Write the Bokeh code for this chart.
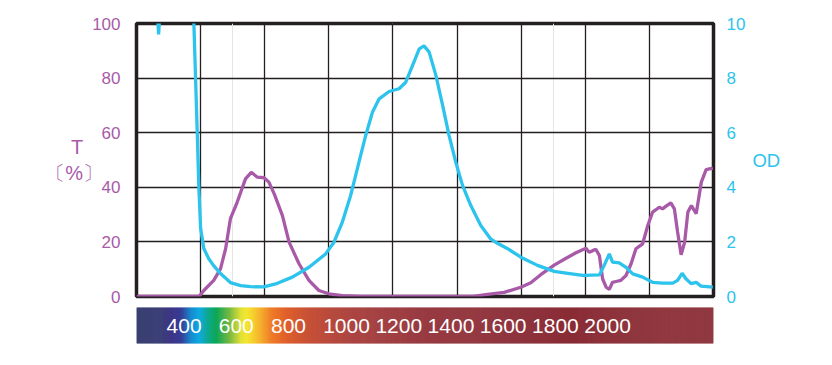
import numpy as np
from bokeh.plotting import figure
from bokeh.models import Range1d, LinearAxis, SingleIntervalTicker, Grid
from bokeh.layouts import column
from bokeh.core.properties import value
from bokeh.embed import file_html
from bokeh.resources import INLINE

# ---------------- data ----------------
t_nm = [200, 395, 410, 441, 462, 478, 493, 514, 540, 558, 577, 598, 613, 630, 655, 676,
        707, 738, 769, 800, 842, 900, 1250, 1295, 1347, 1399, 1430, 1461, 1503, 1540,
        1571, 1602, 1612, 1623, 1633, 1644, 1654, 1665, 1675, 1685, 1696, 1711, 1727,
        1743, 1758, 1779, 1795, 1810, 1831, 1841, 1852, 1867, 1878, 1888, 1899, 1910,
        1920, 1931, 1946, 1962, 1977, 1998]
t_val = [0, 0, 2.2, 5.9, 10.1, 17.5, 28.5, 34.5, 43.1, 45.5, 43.7, 43.5, 41.9, 37.5, 29.7, 19.9,
         12.0, 5.9, 2.2, 1.0, 0.3, 0, 0, 0.8, 1.5, 3.4, 5.0, 8.0, 11.5, 14.0,
         16.0, 17.7, 16.2, 16.8, 17.3, 15.0, 6.5, 3.4, 2.6, 5.2, 5.5, 5.9, 7.7,
         12.0, 17.5, 19.3, 26.0, 30.9, 32.7, 32.1, 33.1, 34.3, 32.1, 23.6, 15.3, 19.9,
         30.9, 33.3, 30.3, 41.9, 46.5, 47.0]

od_nm = [200, 262, 269, 276, 376, 379, 389.5, 394.5, 400, 410, 425, 440, 462, 493, 525, 556,
         597, 634, 686, 738, 790, 816, 842, 868, 894, 915, 936, 957, 988, 1019, 1040,
         1061, 1082, 1097, 1113, 1134, 1155, 1175, 1196, 1217, 1243, 1274, 1305, 1326,
         1358, 1399, 1451, 1503, 1540, 1592, 1618, 1644, 1659, 1675, 1685, 1706, 1727,
         1748, 1779, 1810, 1841, 1873, 1888, 1902, 1914, 1930, 1946, 1961, 1998]
od_val = [11, 11, 9.6, 11, 11, 10.0, 6.0, 4.0, 2.5, 1.76, 1.39, 1.14, 0.84, 0.51, 0.40, 0.36,
          0.35, 0.46, 0.71, 1.07, 1.56, 1.99, 2.72, 3.70, 4.92, 5.90, 6.75, 7.24, 7.51, 7.61, 7.85,
          8.46, 9.07, 9.18, 8.95, 8.10, 7.0, 5.90, 4.92, 4.07, 3.33, 2.60, 2.11, 1.95,
          1.75, 1.44, 1.14, 0.92, 0.86, 0.77, 0.78, 0.79, 1.14, 1.56, 1.26, 1.23, 1.07,
          0.83, 0.71, 0.52, 0.49, 0.49, 0.59, 0.85, 0.65, 0.47, 0.52, 0.38, 0.34]

bar_labels = ["400", "600", "800", "1000", "1200", "1400", "1600", "1800", "2000"]
bar_label_pos = [400, 600, 800, 1000, 1200, 1400, 1600, 1800, 2000]

# colour bar gradient (position in bar-label units, colour)
grad_pos = [285, 381, 419, 457, 495, 526, 560, 591, 640, 686, 709, 755, 801, 858, 953,
            1106, 1373, 1679, 2495]
grad_col = ["#2f3468", "#303470", "#31297f", "#2c3190", "#0a84cc", "#00a5e0", "#00a48a",
            "#00a350", "#6db43c", "#e0e030", "#f4e629", "#f6b52b", "#ef7d28", "#e0612c",
            "#c44c34", "#a83c38", "#922f37", "#8b2d36", "#8a2d35"]

PURPLE = "#a85aa8"
CYAN = "#2cc3ec"
FONT = "Liberation Sans"

# ---------------- main plot ----------------
p = figure(width=824, height=307, x_range=Range1d(200, 2000), y_range=Range1d(0, 100),
           output_backend="svg", toolbar_location=None,
           x_axis_location=None, y_axis_location="left",
           min_border_left=136, min_border_right=111, min_border_top=23, min_border_bottom=11)
p.extra_y_ranges = {"od": Range1d(0, 10)}
p.background_fill_color = "white"
p.border_fill_color = "white"
p.outline_line_color = "#231f20"
p.outline_line_width = 3.5

p.yaxis.ticker = SingleIntervalTicker(interval=20)
p.ygrid.ticker = SingleIntervalTicker(interval=20)
p.ygrid.grid_line_color = "#231f20"
p.ygrid.grid_line_width = 1.3
p.add_layout(Grid(dimension=0, ticker=SingleIntervalTicker(interval=200),
                  grid_line_color="#231f20", grid_line_width=1.3))

ax = p.yaxis[0]
ax.axis_line_color = None
ax.major_tick_line_color = None
ax.minor_tick_line_color = None
ax.major_tick_out = 0
ax.major_label_standoff = 12
ax.major_label_text_color = PURPLE
ax.major_label_text_font = FONT
ax.major_label_text_font_size = "17px"
ax.axis_label = "T\u3000\n〔%〕"
ax.axis_label_orientation = "horizontal"
ax.axis_label_standoff = -14
ax.axis_label_text_color = PURPLE
ax.axis_label_text_font = FONT
ax.axis_label_text_font_style = "normal"
ax.axis_label_text_font_size = "20px"

rax = LinearAxis(y_range_name="od", ticker=SingleIntervalTicker(interval=2))
rax.axis_line_color = None
rax.major_tick_line_color = None
rax.minor_tick_line_color = None
rax.major_tick_out = 0
rax.major_label_standoff = 9
rax.major_label_text_align = "center"
rax.major_label_text_color = CYAN
rax.major_label_text_font = FONT
rax.major_label_text_font_size = "17px"
rax.axis_label = "OD"
rax.axis_label_orientation = "horizontal"
rax.axis_label_standoff = 4
rax.axis_label_text_color = CYAN
rax.axis_label_text_font = FONT
rax.axis_label_text_font_style = "normal"
rax.axis_label_text_font_size = "18.5px"
p.add_layout(rax, "right")

p.line(t_nm, t_val, line_color=PURPLE, line_width=3.3)
p.line(od_nm, od_val, line_color=CYAN, line_width=3.3, y_range_name="od")

# ---------------- colour bar ----------------
lo, hi = grad_pos[0], grad_pos[-1]
cb = figure(width=824, height=40, x_range=Range1d(lo, hi), y_range=Range1d(0, 1),
            output_backend="svg", toolbar_location=None,
            x_axis_location=None, y_axis_location=None,
            min_border_left=135, min_border_right=110, min_border_top=0, min_border_bottom=4)
cb.outline_line_color = None
cb.grid.visible = False


def hex2rgb(h):
    return np.array([int(h[i:i + 2], 16) for i in (1, 3, 5)], dtype=float)


stops_rgb = np.array([hex2rgb(c) for c in grad_col])
edges = np.linspace(lo, hi, 580)
mids = (edges[:-1] + edges[1:]) / 2
cols = []
for m in mids:
    rgb = [np.interp(m, grad_pos, stops_rgb[:, k]) for k in range(3)]
    cols.append("#%02x%02x%02x" % tuple(int(round(v)) for v in rgb))
cb.quad(left=edges[:-1], right=edges[1:], bottom=0, top=1, fill_color=cols, line_color=cols,
        line_width=0.5)
cb.text(x=bar_label_pos, y=[0.5] * len(bar_label_pos), text=bar_labels,
        text_align="left", text_baseline="middle", text_color="white",
        text_font=value(FONT), text_font_size="21px")

layout = column(p, cb, spacing=0)
open("out.html", "w").write(file_html(layout, INLINE))
